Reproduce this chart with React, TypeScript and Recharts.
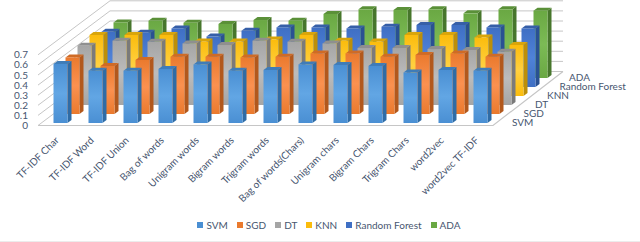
import { BarChart, Bar, XAxis, YAxis, Legend, Customized, CartesianGrid } from "recharts";

const categories = [
  "TF-IDF Char", "TF-IDF Word", "TF-IDF Union", "Bag of words", "Unigram words", "Bigram words",
  "Trigram words", "Bag of words(Chars)", "Unigram chars", "Bigram Chars", "Trigram Chars", "word2vec", "word2vec TF-IDF",
];
const seriesNames = ["SVM", "SGD", "DT", "KNN", "Random Forest", "ADA"];
const yTicks = [0, 0.1, 0.2, 0.3, 0.4, 0.5, 0.6, 0.7];

const svm = [0.585, 0.518, 0.518, 0.535, 0.58, 0.518, 0.525, 0.58, 0.575, 0.565, 0.5, 0.525, 0.518];
const sgd = [0.56, 0.475, 0.535, 0.567, 0.567, 0.56, 0.567, 0.6, 0.6, 0.567, 0.585, 0.6, 0.567];
const dt = [0.587, 0.637, 0.627, 0.61, 0.594, 0.637, 0.627, 0.61, 0.564, 0.564, 0.554, 0.545, 0.528];
const knn = [0.604, 0.604, 0.604, 0.54, 0.54, 0.56, 0.604, 0.547, 0.54, 0.604, 0.604, 0.58, 0.505];
const rf = [0.547, 0.537, 0.58, 0.5, 0.557, 0.59, 0.59, 0.58, 0.597, 0.614, 0.614, 0.59, 0.58];
const ada = [0.55, 0.567, 0.547, 0.535, 0.574, 0.567, 0.634, 0.68, 0.673, 0.68, 0.64, 0.68, 0.667];

const seriesValues = [svm, sgd, dt, knn, rf, ada];
const tableData = categories.map((name, i) => {
  const row: Record<string, string | number> = { name };
  seriesNames.forEach((s, k) => {
    row[s] = seriesValues[k][i];
  });
  return row;
});

// front, light, side, top
const palette = [
  ["#4a8fd3", "#62a6e4", "#2f6ca6", "#3f7cb8"],
  ["#ea7a2e", "#fb9150", "#b2581c", "#cf6b26"],
  ["#a5a5a5", "#bcbcbc", "#7a7a7a", "#8f8f8f"],
  ["#fbbc0c", "#ffd040", "#bd8f08", "#d9a50a"],
  ["#3f6fc4", "#4f82d8", "#2a5192", "#365fa8"],
  ["#6aa843", "#7cbb55", "#47762c", "#5a9038"],
];

const TEXT = "#47566f";
const GRID = "#c6c6c6";
const FONT = "Lato, sans-serif";

// 3d projection of the floor
const STEP_X = 12;
const STEP_Y = 9;
const SHIFT_X = 4.5;
const FLOOR_Y = 2.5;
const BACK_X = 110;
const FRONT_X = 38;
const RIGHT_FRONT = 493;
const RIGHT_BACK = 563;
const DEPTH_Y = 54;

function Box(props: any) {
  const { x, y, width, height, depth } = props;
  const px = x + SHIFT_X + STEP_X * depth;
  const py = y - STEP_Y * depth;
  const d = 4;
  const t = 3;
  const c = palette[depth];
  return (
    <g>
      <polygon
        points={`${px + width},${py} ${px + width + d},${py - t} ${px + width + d},${py + height - t} ${px + width},${py + height}`}
        fill={c[2]}
      />
      <polygon points={`${px},${py} ${px + width},${py} ${px + width + d},${py - t} ${px + d},${py - t}`} fill={c[3]} />
      <rect x={px} y={py} width={width} height={height} fill={`url(#face${depth})`} />
    </g>
  );
}

function WallLine(props: any) {
  const wy = props.y1 + FLOOR_Y;
  return (
    <polyline
      key={props.key}
      points={`${FRONT_X},${wy} ${BACK_X},${wy - DEPTH_Y} ${RIGHT_BACK},${wy - DEPTH_Y}`}
      fill="none"
      stroke={GRID}
      strokeWidth={1}
    />
  );
}

function ValueTick(props: any) {
  const { y, payload } = props;
  return (
    <text x={28} y={y + FLOOR_Y + 3.5} textAnchor="end" fontSize={10} fontFamily={FONT} fill={TEXT}>
      {payload.value}
    </text>
  );
}

function CategoryTick(props: any) {
  const { x, payload } = props;
  return (
    <text
      transform={`translate(${x + 4},141) rotate(-45)`}
      textAnchor="end"
      fontSize={10}
      fontFamily={FONT}
      fill={TEXT}
    >
      {payload.value}
    </text>
  );
}

const depthLabelX = [512, 523.5, 535, 547, 559.5, 569];

function Floor() {
  return (
    <g>
      <polyline
        points={`${FRONT_X},${123 + FLOOR_Y} ${RIGHT_FRONT},${123 + FLOOR_Y} ${RIGHT_BACK},${123 + FLOOR_Y - DEPTH_Y}`}
        fill="none"
        stroke={GRID}
        strokeWidth={1.2}
      />
      {seriesNames.map((s, i) => (
        <text key={s} x={depthLabelX[i]} y={126 - STEP_Y * i} fontSize={10} fontFamily={FONT} fill={TEXT}>
          {s}
        </text>
      ))}
    </g>
  );
}

function LegendRow(props: any) {
  const items = [...(props.payload ?? [])].sort(
    (a: any, b: any) => seriesNames.indexOf(a.value) - seriesNames.indexOf(b.value),
  );
  return (
    <div style={{ display: "flex", justifyContent: "center", gap: 9, fontSize: 10, fontFamily: FONT, color: TEXT, lineHeight: "13px" }}>
      {items.map((it: any) => (
        <span key={it.value} style={{ display: "flex", alignItems: "center", gap: 3 }}>
          <span style={{ width: 6, height: 6, background: it.color }} />
          {it.value}
        </span>
      ))}
    </div>
  );
}

const drawOrder = [5, 4, 3, 2, 1, 0];

export default function App() {
  return (
    <div style={{ position: "absolute", left: 0, top: 0, width: 640, height: 242 }}>
      <BarChart
        width={640}
        height={242}
        data={tableData}
        barSize={14}
        barGap={-14}
        margin={{ top: 52.3, right: 147, bottom: 118, left: 0 }}
      >
        <defs>
          {palette.map((c, i) => (
            <linearGradient key={i} id={`face${i}`} x1="0" y1="0" x2="0" y2="1">
              <stop offset="0%" stopColor={c[0]} />
              <stop offset="50%" stopColor={c[1]} />
              <stop offset="100%" stopColor={c[0]} />
            </linearGradient>
          ))}
        </defs>
        <CartesianGrid vertical={false} horizontal={(p: any) => <WallLine {...p} />} syncWithTicks />
        <YAxis
          domain={[0, 0.7]}
          ticks={yTicks}
          width={38}
          axisLine={false}
          tickLine={false}
          tick={<ValueTick />}
          interval={0}
        />
        <XAxis
          dataKey="name"
          height={1}
          axisLine={false}
          tickLine={false}
          interval={0}
          tick={<CategoryTick />}
        />
        <Customized component={Floor} />
        <Legend
          verticalAlign="middle"
          content={<LegendRow />}
          wrapperStyle={{ top: 218.5, left: 9, width: 640 }}
        />
        {drawOrder.map((k) => (
          <Bar
            key={seriesNames[k]}
            dataKey={seriesNames[k]}
            fill={palette[k][0]}
            isAnimationActive={false}
            shape={(p: any) => <Box {...p} depth={k} />}
          />
        ))}
      </BarChart>
      <div style={{ position: "absolute", left: 0, top: 241, width: 640, height: 1, background: "#ececec" }} />
    </div>
  );
}
